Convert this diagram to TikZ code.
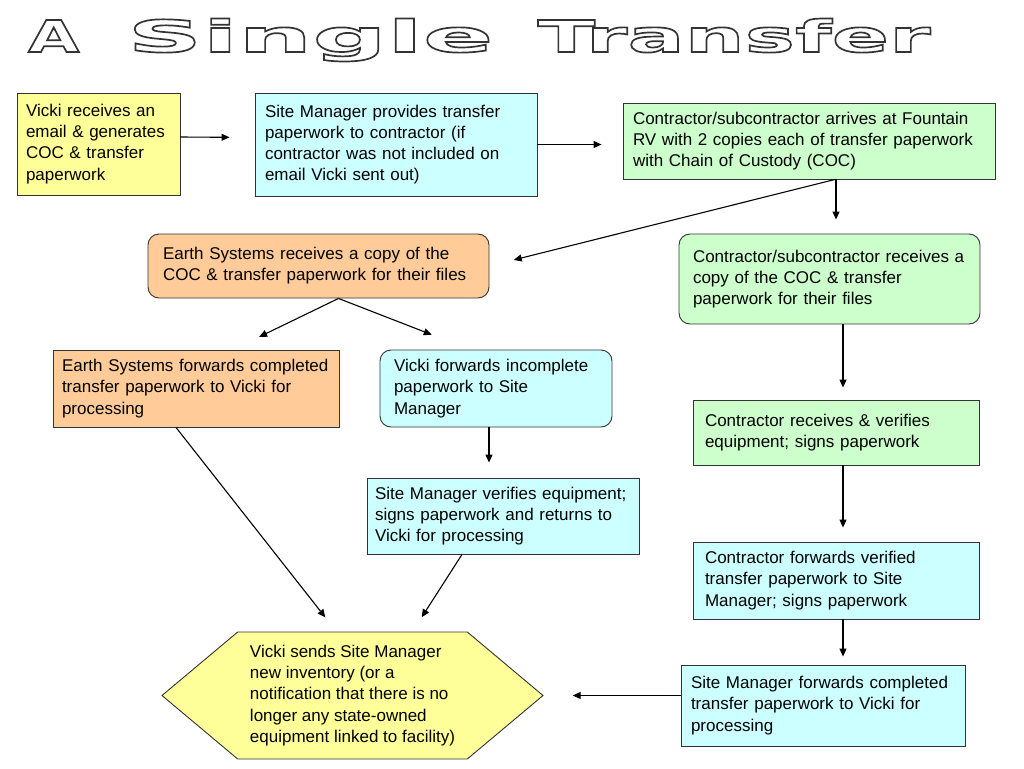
\documentclass[tikz,border=0pt]{standalone}
\usepackage{fontspec}
\setmainfont{Liberation Sans}
\newfontfamily\titlenarrow[FakeStretch=1.5]{DejaVu Sans}
\newfontfamily\titlewide[FakeStretch=2.37]{DejaVu Sans}
\newfontfamily\titlefont[FakeStretch=1.92]{DejaVu Sans}
\usetikzlibrary{arrows.meta,shapes.symbols,positioning}
\definecolor{paleyellow}{HTML}{FFFF99}
\definecolor{palecyan}{HTML}{CCFFFF}
\definecolor{palegreen}{HTML}{CCFFCC}
\definecolor{paleorange}{HTML}{FFCC99}
% hollow letters: stroke the glyphs only
\newcommand{\hollow}[1]{\special{pdf:literal direct 1 Tr 1.7 w 0.2 G}#1\special{pdf:literal direct 0 Tr 0 G}}
\tikzset{task/.style={rectangle,draw=black!80,line width=0.9pt,align=left,inner xsep=10pt,inner ysep=3pt},
		post/.style={-{Triangle[length=8pt,width=7pt]},line width=1.1pt}}

\begin{document}
\begin{tikzpicture}[x=1pt,y=-1pt,
		every node/.style={font=\fontsize{17}{21.2}\selectfont},
		soft/.style={task,rounded corners=11pt},
		ends/.style={signal,signal to=west and east,signal pointer angle=80,draw=black!80,line width=0.9pt,align=left}]
		\useasboundingbox (0,0) rectangle (1024,768);
		\node[font=\bfseries\fontsize{44}{48}\selectfont,anchor=base west,inner sep=0pt] (title) at (28,52) {\hollow{{\titlenarrow\bfseries A}\hspace{48pt}{\titlewide\bfseries Single}\hspace{44pt}{\titlefont\bfseries Transfer}}};
		
		\node[task,fill=paleyellow,inner xsep=9pt,text width=145pt,minimum height=102pt] (vicki-email) at (98.5,144) {Vicki receives an\\email \& generates\\COC \& transfer\\paperwork};
		\node[task,fill=palecyan,text width=262pt,minimum height=103pt] (site-provides) at (396,144.5) {Site Manager provides transfer\\paperwork to contractor (if\\contractor was not included on\\email Vicki sent out)};
		\node[task,fill=palegreen,text width=352pt,minimum height=76pt] (contr-arrives) at (809,141) {Contractor/subcontractor arrives at Fountain\\RV with 2 copies each of transfer paperwork\\with Chain of Custody (COC)};
		
		\node[soft,fill=paleorange,inner xsep=15pt,text width=311pt,minimum height=64pt] (earth-copy) at (318.5,266) {Earth Systems receives a copy of the\\COC \& transfer paperwork for their files};
		\node[soft,fill=palegreen,inner xsep=14pt,text width=273pt,minimum height=90pt] (contr-copy) at (829.5,279) {Contractor/subcontractor receives a\\copy of the COC \& transfer\\paperwork for their files};
		
		\node[task,fill=paleorange,inner xsep=9pt,text width=268pt,minimum height=77pt] (earth-forwards) at (196,388.5) {Earth Systems forwards completed\\transfer paperwork to Vicki for\\processing};
		\node[soft,fill=palecyan,inner xsep=14pt,text width=204pt,minimum height=77pt] (vicki-forwards) at (496,388.5) {Vicki forwards incomplete\\paperwork to Site\\Manager};
		\node[task,fill=palegreen,inner xsep=12pt,text width=262pt,minimum height=65pt] (contr-verifies) at (836,432.5) {Contractor receives \& verifies\\equipment; signs paperwork};
		\node[task,fill=palecyan,inner xsep=8pt,text width=256pt,minimum height=76pt] (site-verifies) at (503,516) {Site Manager verifies equipment;\\signs paperwork and returns to\\Vicki for processing};
		\node[task,fill=palecyan,inner xsep=12pt,text width=262pt,minimum height=77pt] (contr-forwards) at (836,580.5) {Contractor forwards verified\\transfer paperwork to Site\\Manager; signs paperwork};
		\node[task,fill=palecyan,text width=264pt,minimum height=81pt] (site-forwards) at (823,705.5) {Site Manager forwards completed\\transfer paperwork to Vicki for\\processing};
		
		\node[ends,fill=paleyellow,minimum width=381pt,minimum height=127pt] (vicki-sends) at (352.5,695.5) {Vicki sends Site Manager\\new inventory (or a\\notification that there is no\\longer any state-owned\\equipment linked to facility)};
		
		\draw[post,shorten >=25pt] ([yshift=7pt]vicki-email.east) -- ([yshift=7pt]site-provides.west);
		\draw[post,shorten >=21pt] (site-provides.east) -- (site-provides.east -| contr-arrives.west);
		\draw[post,shorten >=14pt] ([xshift=27pt]contr-arrives.south) -- ([xshift=27pt]contr-arrives.south |- contr-copy.north);
		\draw[post,shorten >=25pt] ([xshift=26pt]contr-arrives.south) -- (earth-copy.east);
		\draw[post,shorten >=29pt] ([xshift=20pt]earth-copy.south) -- ([xshift=37pt]earth-forwards.north);
		\draw[post,shorten >=41pt] ([xshift=20pt]earth-copy.south) -- ([xshift=-26pt]vicki-forwards.north);
		\draw[post,shorten >=15pt] ([xshift=-7pt]vicki-forwards.south) -- ([xshift=-7pt]vicki-forwards.south |- site-verifies.north);
		\draw[post,shorten >=18pt] ([xshift=-20pt]earth-forwards.south) -- ([xshift=-16pt]vicki-sends.north);
		\draw[post,shorten >=17pt] ([xshift=-41pt]site-verifies.south) -- ([xshift=60pt]vicki-sends.north);
		\draw[post,shorten >=12pt] ([xshift=13.5pt]contr-copy.south) -- ([xshift=13.5pt]contr-copy.south |- contr-verifies.north);
		\draw[post,shorten >=14pt] ([xshift=7pt]contr-verifies.south) -- ([xshift=7pt]contr-verifies.south |- contr-forwards.north);
		\draw[post,shorten >=8pt] ([xshift=7pt]contr-forwards.south) -- ([xshift=7pt]contr-forwards.south |- site-forwards.north);
		\draw[post,shorten >=29pt] (vicki-sends.east -| site-forwards.west) -- (vicki-sends.east);
	\end{tikzpicture}
\end{document}
